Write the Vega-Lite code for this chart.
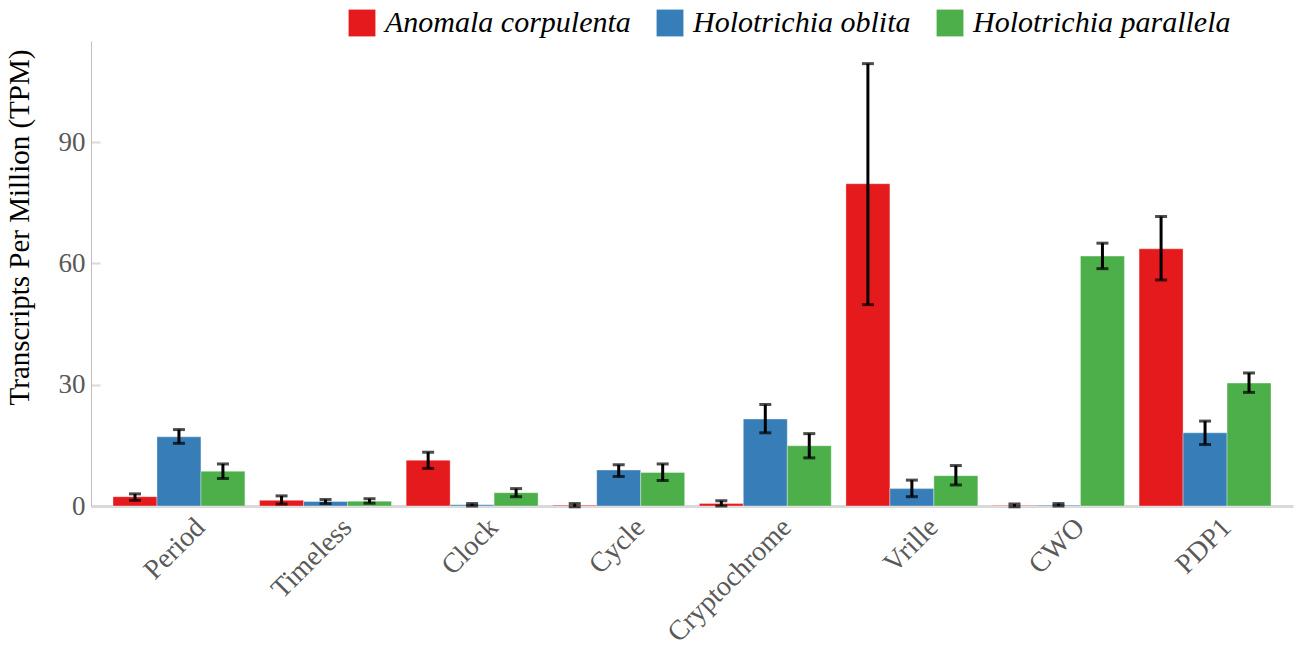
{
  "$schema": "https://vega.github.io/schema/vega-lite/v6.json",
  "width": 1202,
  "height": 465,
  "autosize": {"type": "none"},
  "padding": {"left": 91, "top": 41, "right": 8, "bottom": 142},
  "background": "white",
  "data": {
    "values": [
      {"gene": "Period", "species": "Anomala corpulenta", "tpm": 2.3, "lo": 1.4, "hi": 3.0},
      {"gene": "Period", "species": "Holotrichia oblita", "tpm": 17.1, "lo": 15.5, "hi": 18.9},
      {"gene": "Period", "species": "Holotrichia parallela", "tpm": 8.6, "lo": 6.8, "hi": 10.4},
      {"gene": "Timeless", "species": "Anomala corpulenta", "tpm": 1.4, "lo": 0.5, "hi": 2.5},
      {"gene": "Timeless", "species": "Holotrichia oblita", "tpm": 1.1, "lo": 0.6, "hi": 1.6},
      {"gene": "Timeless", "species": "Holotrichia parallela", "tpm": 1.2, "lo": 0.7, "hi": 1.8},
      {"gene": "Clock", "species": "Anomala corpulenta", "tpm": 11.3, "lo": 9.3, "hi": 13.3},
      {"gene": "Clock", "species": "Holotrichia oblita", "tpm": 0.3, "lo": 0.0, "hi": 0.6},
      {"gene": "Clock", "species": "Holotrichia parallela", "tpm": 3.3, "lo": 2.3, "hi": 4.3},
      {"gene": "Cycle", "species": "Anomala corpulenta", "tpm": 0.2, "lo": -0.2, "hi": 0.6},
      {"gene": "Cycle", "species": "Holotrichia oblita", "tpm": 8.9, "lo": 7.3, "hi": 10.2},
      {"gene": "Cycle", "species": "Holotrichia parallela", "tpm": 8.3, "lo": 6.3, "hi": 10.4},
      {"gene": "Cryptochrome", "species": "Anomala corpulenta", "tpm": 0.6, "lo": 0.0, "hi": 1.3},
      {"gene": "Cryptochrome", "species": "Holotrichia oblita", "tpm": 21.5, "lo": 18.1, "hi": 25.1},
      {"gene": "Cryptochrome", "species": "Holotrichia parallela", "tpm": 14.9, "lo": 11.9, "hi": 17.9},
      {"gene": "Vrille", "species": "Anomala corpulenta", "tpm": 79.7, "lo": 49.8, "hi": 109.4},
      {"gene": "Vrille", "species": "Holotrichia oblita", "tpm": 4.3, "lo": 2.3, "hi": 6.4},
      {"gene": "Vrille", "species": "Holotrichia parallela", "tpm": 7.5, "lo": 5.2, "hi": 10.0},
      {"gene": "CWO", "species": "Anomala corpulenta", "tpm": 0.1, "lo": -0.2, "hi": 0.5},
      {"gene": "CWO", "species": "Holotrichia oblita", "tpm": 0.2, "lo": 0.0, "hi": 0.6},
      {"gene": "CWO", "species": "Holotrichia parallela", "tpm": 61.8, "lo": 58.7, "hi": 65.0},
      {"gene": "PDP1", "species": "Anomala corpulenta", "tpm": 63.6, "lo": 55.9, "hi": 71.6},
      {"gene": "PDP1", "species": "Holotrichia oblita", "tpm": 18.1, "lo": 15.2, "hi": 21.0},
      {"gene": "PDP1", "species": "Holotrichia parallela", "tpm": 30.4, "lo": 28.1, "hi": 32.9}
    ]
  },
  "encoding": {
    "x": {
      "field": "gene",
      "type": "nominal",
      "sort": null,
      "scale": {"paddingInner": 0.1, "paddingOuter": 0.15},
      "axis": {
        "title": null,
        "labelAngle": -45,
        "labelFontSize": 28,
        "labelColor": "#595959",
        "labelFont": "Liberation Serif",
        "labelPadding": 7,
        "labelOffset": 12,
        "ticks": false,
        "domainColor": "#d9d9d9",
        "domainWidth": 3
      }
    },
    "xOffset": {"field": "species", "type": "nominal", "sort": null, "scale": {"paddingInner": 0, "paddingOuter": 0}}
  },
  "layer": [
    {
      "mark": {"type": "bar", "stroke": "#ffffff", "strokeOpacity": 0.35, "strokeWidth": 1},
      "encoding": {
        "y": {
          "field": "tpm",
          "type": "quantitative",
          "scale": {"domain": [0, 115], "nice": false},
          "axis": {
            "title": "Transcripts Per Million (TPM)",
            "titleFont": "Liberation Serif",
            "titleFontSize": 29,
            "titleFontWeight": "normal",
            "titleColor": "#000000",
            "titlePadding": 24,
            "titleY": 186,
            "values": [0, 30, 60, 90],
            "grid": false,
            "labelFont": "Liberation Serif",
            "labelFontSize": 27,
            "labelColor": "#595959",
            "labelPadding": 15,
            "tickSize": -9,
            "tickColor": "#d9d9d9",
            "tickWidth": 2,
            "domainColor": "#bfbfbf",
            "domainWidth": 1
          }
        },
        "color": {
          "field": "species",
          "type": "nominal",
          "sort": null,
          "scale": {
            "domain": ["Anomala corpulenta", "Holotrichia oblita", "Holotrichia parallela"],
            "range": ["#e41a1c", "#377eb8", "#4daf4a"]
          },
          "legend": {
            "title": null,
            "orient": "none",
            "direction": "horizontal",
            "legendX": 256,
            "legendY": -33,
            "symbolType": "square",
            "symbolSize": 720,
            "symbolStrokeWidth": 0,
            "labelFont": "Liberation Serif",
            "labelFontStyle": "italic",
            "labelFontSize": 30,
            "labelColor": "#000000",
            "labelOffset": 8,
            "columnPadding": 24,
            "labelLimit": 400
          }
        }
      }
    },
    {
      "mark": {"type": "rule", "color": "#000000", "strokeWidth": 3},
      "encoding": {
        "y": {"field": "lo", "type": "quantitative"},
        "y2": {"field": "hi"}
      }
    },
    {
      "mark": {"type": "tick", "color": "#000000", "thickness": 3, "size": 12, "orient": "horizontal"},
      "encoding": {
        "y": {"field": "lo", "type": "quantitative"}
      }
    },
    {
      "mark": {"type": "tick", "color": "#000000", "thickness": 3, "size": 12, "orient": "horizontal"},
      "encoding": {
        "y": {"field": "hi", "type": "quantitative"}
      }
    }
  ],
  "config": {
    "view": {"stroke": null},
    "font": "Liberation Serif"
  }
}
